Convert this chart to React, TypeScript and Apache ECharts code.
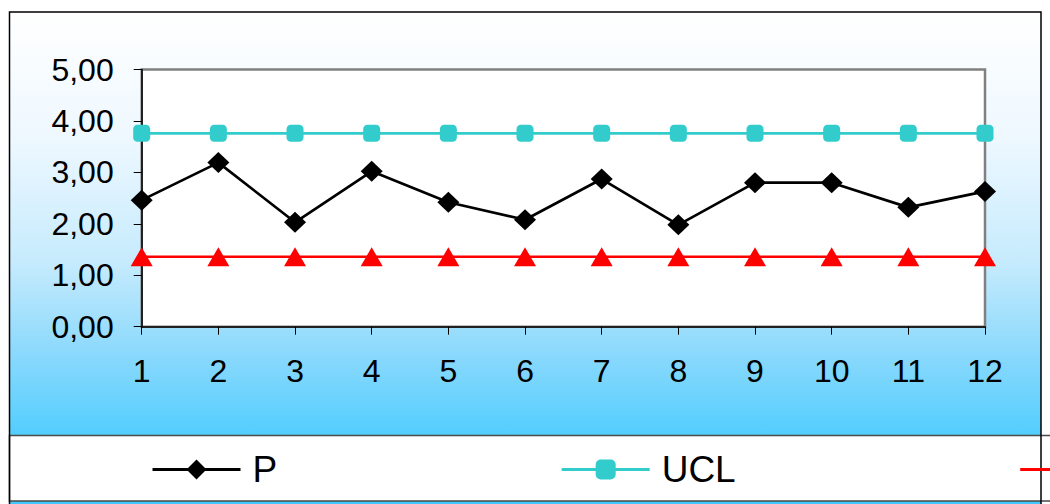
import React, { useEffect, useRef } from "react";
import * as echarts from "echarts";

// Sample numbers on the x axis
const categories = ["1", "2", "3", "4", "5", "6", "7", "8", "9", "10", "11", "12"];

// Proportion per sample and its control limits
const pValues = [2.46, 3.19, 2.03, 3.02, 2.42, 2.08, 2.87, 1.98, 2.8, 2.8, 2.32, 2.63];
const uclValues = [3.76, 3.76, 3.76, 3.76, 3.76, 3.76, 3.76, 3.76, 3.76, 3.76, 3.76, 3.76];
const lclValues = [1.36, 1.36, 1.36, 1.36, 1.36, 1.36, 1.36, 1.36, 1.36, 1.36, 1.36, 1.36];

const seriesNames = ["P", "UCL", "LCL"];

const FONT = "'Liberation Sans', Arial, sans-serif";

const fmt = (v: number) => v.toFixed(2).replace(".", ",");

export default function App() {
  const ref = useRef<HTMLDivElement>(null);

  useEffect(() => {
    if (!ref.current) return;
    const chart = echarts.init(ref.current, null, { renderer: "svg" });

    const option: echarts.EChartsOption = {
      animation: false,
      backgroundColor: "#ffffff",
      graphic: [
        {
          type: "rect",
          z: -10,
          silent: true,
          shape: { x: 9.5, y: 12, width: 1031.5, height: 500 },
          style: {
            fill: new echarts.graphic.LinearGradient(0, 0, 0, 1, [
              { offset: 0, color: "#ffffff" },
              { offset: 0.25, color: "#eef8ff" },
              { offset: 0.5, color: "#c6ebfd" },
              { offset: 0.68, color: "#8cd9fc" },
              { offset: 0.86, color: "#4ecdfe" },
              { offset: 1, color: "#3fc7fd" },
            ]),
            stroke: "none",
          },
        },
        {
          type: "rect",
          z: -9,
          silent: true,
          shape: { x: 9.5, y: 435.5, width: 1060, height: 65.5 },
          style: { fill: "#ffffff", stroke: "#4a4a4a", lineWidth: 1.5 },
        },
        {
          type: "rect",
          z: -8,
          silent: true,
          shape: { x: 9.5, y: 12, width: 1031.5, height: 520 },
          style: { fill: "none", stroke: "#000000", lineWidth: 1.5 },
        },
      ],
      grid: {
        left: 141.7,
        right: 65,
        top: 69.5,
        bottom: 177.3,
        show: true,
        backgroundColor: "#ffffff",
        borderColor: "#808080",
        borderWidth: 2.5,
      },
      legend: {
        left: 146,
        top: 446,
        width: 1600,
        itemWidth: 88,
        itemHeight: 25,
        itemGap: 283,
        selectedMode: false,
        data: seriesNames,
        lineStyle: { width: 3 },
        textStyle: {
          fontFamily: FONT,
          fontSize: 37,
          color: "#000000",
          padding: [0, 0, 0, 7],
        },
      },
      xAxis: {
        type: "category",
        data: categories,
        boundaryGap: false,
        axisLine: { show: true, lineStyle: { color: "#000000", width: 1.5 } },
        axisTick: { show: true, length: 8, lineStyle: { color: "#000000", width: 1 } },
        axisLabel: {
          margin: 28,
          fontFamily: FONT,
          fontSize: 32,
          color: "#000000",
        },
        splitLine: { show: false },
      },
      yAxis: {
        type: "value",
        min: 0,
        max: 5,
        interval: 1,
        axisLine: { show: true, lineStyle: { color: "#000000", width: 1.5 } },
        axisTick: { show: true, length: 8, lineStyle: { color: "#000000", width: 1 } },
        axisLabel: {
          margin: 28,
          fontFamily: FONT,
          fontSize: 32,
          color: "#000000",
          formatter: (v: number) => fmt(v),
        },
        splitLine: { show: false },
      },
      series: [
        {
          name: seriesNames[0],
          type: "line",
          data: pValues,
          symbol: "diamond",
          symbolSize: [22, 21],
          itemStyle: { color: "#000000" },
          lineStyle: { color: "#000000", width: 2.7 },
          z: 4,
        },
        {
          name: seriesNames[1],
          type: "line",
          data: uclValues,
          symbol: "roundRect",
          symbolSize: 17,
          itemStyle: { color: "#33cccc" },
          lineStyle: { color: "#33cccc", width: 2.7 },
          z: 3,
        },
        {
          name: seriesNames[2],
          type: "line",
          data: lclValues,
          symbol: "triangle",
          symbolSize: [22, 19],
          itemStyle: { color: "#ff0000" },
          lineStyle: { color: "#ff0000", width: 2.7 },
          z: 3,
        },
      ],
    };

    chart.setOption(option);
    return () => chart.dispose();
  }, []);

  return (
    <div
      ref={ref}
      style={{ position: "fixed", left: 0, top: 0, width: 1050, height: 504 }}
    />
  );
}
